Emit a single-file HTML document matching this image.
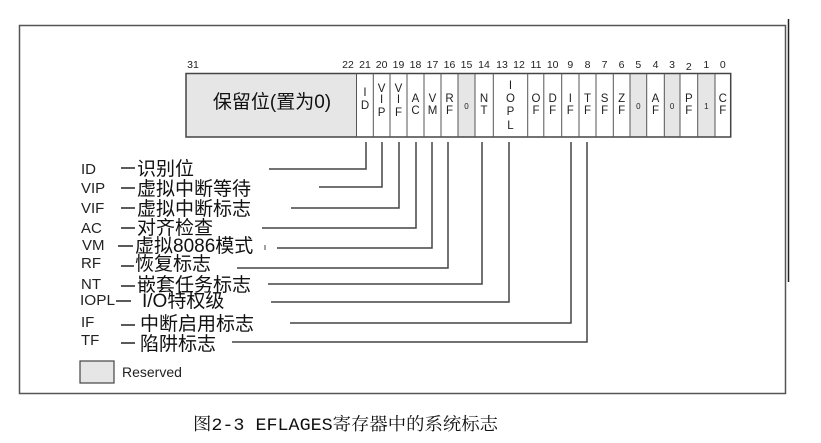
<!DOCTYPE html>
<html><head><meta charset="utf-8"><style>
html,body{margin:0;padding:0;background:#fff;}
svg{display:block}
.n{font-family:"Liberation Sans",sans-serif;font-size:10.5px;fill:#222;text-anchor:middle}
.c{font-family:"Liberation Sans",sans-serif;font-size:11.5px;fill:#222;text-anchor:middle}
.z{font-family:"Liberation Sans",sans-serif;font-size:8px;fill:#222;text-anchor:middle}
.ab{font-family:"Liberation Sans",sans-serif;font-size:15px;fill:#222}
.cn{font-family:"Liberation Sans","Noto Sans CJK SC",sans-serif;font-size:19px;fill:#111}
</style></head><body>
<svg width="821" height="443" viewBox="0 0 821 443" xmlns="http://www.w3.org/2000/svg">
<rect x="19.5" y="25.5" width="766" height="368" fill="none" stroke="#555" stroke-width="1.5"/>
<line x1="788.5" y1="19" x2="788.5" y2="282" stroke="#222" stroke-width="1.5"/>

<!-- register -->
<rect x="186" y="73.5" width="170.5" height="63.5" fill="#e6e6e6"/>
<rect x="458" y="73.5" width="17" height="63.5" fill="#e6e6e6"/>
<rect x="630" y="73.5" width="16.7" height="63.5" fill="#e6e6e6"/>
<rect x="664.3" y="73.5" width="15.7" height="63.5" fill="#e6e6e6"/>
<rect x="697.7" y="73.5" width="17.3" height="63.5" fill="#e6e6e6"/>
<rect x="186" y="73.5" width="544.7" height="63.5" fill="none" stroke="#444" stroke-width="1.5"/>
<g stroke="#555" stroke-width="1">
<line x1="356.5" y1="73.5" x2="356.5" y2="137"/><line x1="373.3" y1="73.5" x2="373.3" y2="137"/>
<line x1="390" y1="73.5" x2="390" y2="137"/><line x1="407" y1="73.5" x2="407" y2="137"/>
<line x1="424" y1="73.5" x2="424" y2="137"/><line x1="441" y1="73.5" x2="441" y2="137"/>
<line x1="458" y1="73.5" x2="458" y2="137"/><line x1="475" y1="73.5" x2="475" y2="137"/>
<line x1="493.3" y1="73.5" x2="493.3" y2="137"/><line x1="527.7" y1="73.5" x2="527.7" y2="137"/>
<line x1="543.8" y1="73.5" x2="543.8" y2="137"/><line x1="561.7" y1="73.5" x2="561.7" y2="137"/>
<line x1="579" y1="73.5" x2="579" y2="137"/><line x1="596" y1="73.5" x2="596" y2="137"/>
<line x1="613.3" y1="73.5" x2="613.3" y2="137"/><line x1="630" y1="73.5" x2="630" y2="137"/>
<line x1="646.7" y1="73.5" x2="646.7" y2="137"/><line x1="664.3" y1="73.5" x2="664.3" y2="137"/>
<line x1="680" y1="73.5" x2="680" y2="137"/><line x1="697.7" y1="73.5" x2="697.7" y2="137"/>
<line x1="715" y1="73.5" x2="715" y2="137"/>
</g>
<!-- bit numbers -->
<g class="n">
<text x="193" y="68">31</text><text x="348" y="68">22</text>
<text x="365" y="68">21</text><text x="381.6" y="68">20</text><text x="398.5" y="68">19</text>
<text x="415.5" y="68">18</text><text x="432.5" y="68">17</text><text x="449.5" y="68">16</text>
<text x="466.5" y="68">15</text><text x="484" y="68">14</text><text x="502" y="68">13</text>
<text x="519" y="68">12</text><text x="536" y="68">11</text><text x="552.7" y="68">10</text>
<text x="570.3" y="68">9</text><text x="587.5" y="68">8</text><text x="604.6" y="68">7</text>
<text x="621.6" y="68">6</text><text x="638.3" y="68">5</text><text x="655.5" y="68">4</text>
<text x="672.1" y="68">3</text><text x="688.8" y="70">2</text><text x="706.3" y="68">1</text>
<text x="722.8" y="68">0</text>
</g>
<text class="cn" x="272" y="108" text-anchor="middle">保留位(置为0)</text>
<!-- cell letters -->
<g class="c">
<text x="365" y="96">I</text><text x="365" y="109">D</text>
<text x="381.6" y="92">V</text><text x="381.6" y="103">I</text><text x="381.6" y="116">P</text>
<text x="398.5" y="92">V</text><text x="398.5" y="103">I</text><text x="398.5" y="116">F</text>
<text x="415.5" y="102">A</text><text x="415.5" y="114">C</text>
<text x="432.5" y="102">V</text><text x="432.5" y="114">M</text>
<text x="449.5" y="102">R</text><text x="449.5" y="114">F</text>
<text x="484" y="102">N</text><text x="484" y="114">T</text>
<text x="510.5" y="89">I</text><text x="510.5" y="102">O</text><text x="510.5" y="115">P</text><text x="510.5" y="129">L</text>
<text x="536" y="102">O</text><text x="536" y="114">F</text>
<text x="552.7" y="102">D</text><text x="552.7" y="114">F</text>
<text x="570.3" y="102">I</text><text x="570.3" y="114">F</text>
<text x="587.5" y="102">T</text><text x="587.5" y="114">F</text>
<text x="604.6" y="102">S</text><text x="604.6" y="114">F</text>
<text x="621.6" y="102">Z</text><text x="621.6" y="114">F</text>
<text x="655.5" y="102">A</text><text x="655.5" y="114">F</text>
<text x="688.8" y="102">P</text><text x="688.8" y="114">F</text>
<text x="722.8" y="102">C</text><text x="722.8" y="114">F</text>
</g>
<g class="z">
<text x="466.5" y="109">0</text><text x="638.3" y="109">0</text><text x="672.1" y="109">0</text><text x="706.3" y="109">1</text>
</g>

<!-- connectors -->
<g fill="none" stroke="#444" stroke-width="1.5">
<polyline points="366,142 366,169 269,169"/>
<polyline points="382,142 382,187 319,187"/>
<polyline points="399,142 399,208 291,208"/>
<polyline points="416,142 416,228 262,228"/>
<polyline points="432,142 432,248 277,248"/>
<polyline points="448,142 448,268 237,268"/>
<polyline points="482,142 482,284 268,284"/>
<polyline points="509,142 509,302 271,302"/>
<polyline points="571,142 571,323 290,323"/>
<polyline points="587,142 587,342 232,342"/>
<line x1="265" y1="245" x2="265" y2="250" stroke-width="1"/>
</g>

<!-- labels -->
<g class="ab">
<text x="81" y="174">ID</text>
<text x="81" y="193">VIP</text>
<text x="81" y="213">VIF</text>
<text x="81" y="233">AC</text>
<text x="82" y="250">VM</text>
<text x="81" y="268">RF</text>
<text x="81" y="289">NT</text>
<text x="80" y="305" textLength="35" lengthAdjust="spacingAndGlyphs">IOPL</text>
<text x="81" y="327">IF</text>
<text x="81" y="345">TF</text>
</g>
<g stroke="#222" stroke-width="1.5">
<line x1="121" y1="168" x2="135" y2="168"/>
<line x1="121" y1="188" x2="135" y2="188"/>
<line x1="121" y1="208" x2="135" y2="208"/>
<line x1="121" y1="228" x2="135" y2="228"/>
<line x1="118" y1="246" x2="133" y2="246"/>
<line x1="121" y1="266" x2="134" y2="266"/>
<line x1="121" y1="286" x2="135" y2="286"/>
<line x1="116" y1="301" x2="131" y2="301"/>
<line x1="121" y1="325" x2="135" y2="325"/>
<line x1="121" y1="343" x2="135" y2="343"/>
</g>
<g class="cn">
<text x="137" y="175">识别位</text>
<text x="137" y="195">虚拟中断等待</text>
<text x="137" y="215">虚拟中断标志</text>
<text x="137" y="234">对齐检查</text>
<text x="135" y="252">虚拟8086模式</text>
<text x="135" y="270">恢复标志</text>
<text x="137" y="291">嵌套任务标志</text>
<text x="142" y="307">I/O特权级</text>
<text x="140" y="330">中断启用标志</text>
<text x="140" y="350">陷阱标志</text>
</g>

<rect x="80" y="361" width="34" height="22" fill="#e6e6e6" stroke="#444" stroke-width="1.2"/>
<text class="ab" x="122" y="377" style="font-size:14px">Reserved</text>

<text x="193" y="430" textLength="305" lengthAdjust="spacingAndGlyphs" style="font-family:'Liberation Mono','Noto Serif CJK SC',serif;font-size:17.5px;fill:#111">图2-3 EFLAGES寄存器中的系统标志</text>
</svg>
</body></html>
